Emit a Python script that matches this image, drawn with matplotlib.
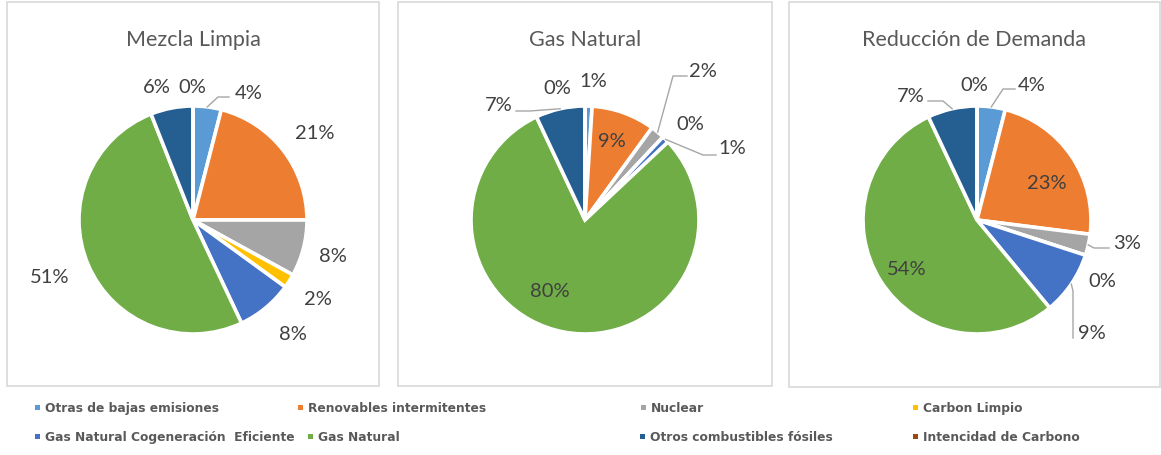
import matplotlib
matplotlib.use("Agg")
import matplotlib.pyplot as plt
from matplotlib.patches import Rectangle
import numpy as np

# --- datos -----------------------------------------------------------------
categorias = [
    "Otras de bajas emisiones",
    "Renovables intermitentes",
    "Nuclear",
    "Carbon Limpio",
    "Gas Natural Cogeneración  Eficiente",
    "Gas Natural",
    "Otros combustibles fósiles",
    "Intencidad de Carbono",
]
colores = ["#5B9BD5", "#ED7D31", "#A5A5A5", "#FFC000",
           "#4472C4", "#70AD47", "#255E91", "#9E480E"]

titulos = ["Mezcla Limpia", "Gas Natural", "Reducción de Demanda"]
mezcla_limpia = [4, 21, 8, 2, 8, 51, 6, 0]
gas_natural = [1, 9, 2, 0, 1, 80, 7, 0]
reduccion_demanda = [4, 23, 3, 0, 9, 54, 7, 0]
escenarios = [mezcla_limpia, gas_natural, reduccion_demanda]

# --- layout (pixeles de la imagen) ------------------------------------------
W, H = 1161, 456
GRIS_TXT = "#404040"
GRIS_LEG = "#595959"
GRIS_LINEA = "#A6A6A6"

cajas = [(7, 3, 379, 387), (398, 3, 772, 387), (789, 3, 1160, 388)]
centros = [(193, 221), (585, 221), (977, 221)]
R = 114

# posicion del texto de cada porcentaje (centro, px)
pos_etiquetas = [
    [(249, 92), (315, 132), (333, 255), (318, 298), (293, 333), (50, 276), (157, 86), (192, 86)],
    [(593, 80), (612, 140), (703, 70), (690, 123), (732, 147), (550, 290), (499, 104), (557, 87)],
    [(1032, 84), (1047, 182), (1127, 242), (1102, 280), (1092, 332), (907, 268), (911, 95), (974, 84)],
]
# lineas guia: indice de porcion -> puntos (codo, final)
guias = [
    {0: [(218, 98), (229, 98)]},
    {6: [(530, 112), (516, 112)], 2: [(673, 77), (687, 77)], 4: [(703, 156), (716, 156)]},
    {0: [(1003, 90), (1015, 90)], 6: [(943, 102), (928, 102)],
     2: [(1094, 249), (1109, 249)], 4: [(1073, 292), (1073, 339)]},
]

# leyenda: (x marcador, y centro)
pos_leyenda = [(37, 408), (300, 408), (643, 408), (915, 408),
               (37, 437), (310, 437), (642, 437), (915, 437)]

FUENTE = ["Lato", "DejaVu Sans"]


def P(px, py):
    return px, H - py


fig = plt.figure(figsize=(W / 100, H / 100), dpi=100)
ax = fig.add_axes([0, 0, 1, 1])

for i, valores in enumerate(escenarios):
    x0, y0, x1, y1 = cajas[i]
    ax.add_patch(Rectangle(P(x0, y1), x1 - x0, y1 - y0, fill=False,
                           edgecolor="#D9D9D9", linewidth=1.2, zorder=0))
    cx, cy = centros[i]
    ax.text(*P((x0 + x1) / 2, 46), titulos[i], ha="center", va="baseline",
            fontsize=15.5, color=GRIS_LEG, family=FUENTE)

    ax.pie(valores, colors=colores, startangle=90, counterclock=False,
           center=P(cx, cy), radius=R,
           wedgeprops=dict(edgecolor="white", linewidth=2.6))

    total = float(sum(valores))
    acum = np.cumsum([0] + valores)
    for k, v in enumerate(valores):
        lx, ly = pos_etiquetas[i][k]
        ax.text(*P(lx, ly + 7), f"{v}%", ha="center", va="baseline",
                fontsize=14.5, color=GRIS_TXT, family=FUENTE)
        if k in guias[i]:
            medio = (acum[k] + acum[k + 1]) / 2 / total
            ang = np.deg2rad(90 - medio * 360)
            sx, sy = cx + R * np.cos(ang), cy - R * np.sin(ang)
            pts = [(sx, sy)] + guias[i][k]
            xs = [p[0] for p in pts]
            ys = [H - p[1] for p in pts]
            ax.plot(xs, ys, color=GRIS_LINEA, linewidth=1.0)

for k, nombre in enumerate(categorias):
    mx, my = pos_leyenda[k]
    ax.add_patch(Rectangle(P(mx - 2.5, my + 2.5), 5, 5, facecolor=colores[k],
                           edgecolor="none"))
    ax.text(*P(mx + 8, my + 4.5), nombre, ha="left", va="baseline",
            fontsize=8.8, fontweight="bold", color=GRIS_LEG, family="DejaVu Sans")

ax.set_xlim(0, W)
ax.set_ylim(0, H)
ax.set_aspect("auto")
ax.axis("off")

fig.savefig("out.png", dpi=100)
